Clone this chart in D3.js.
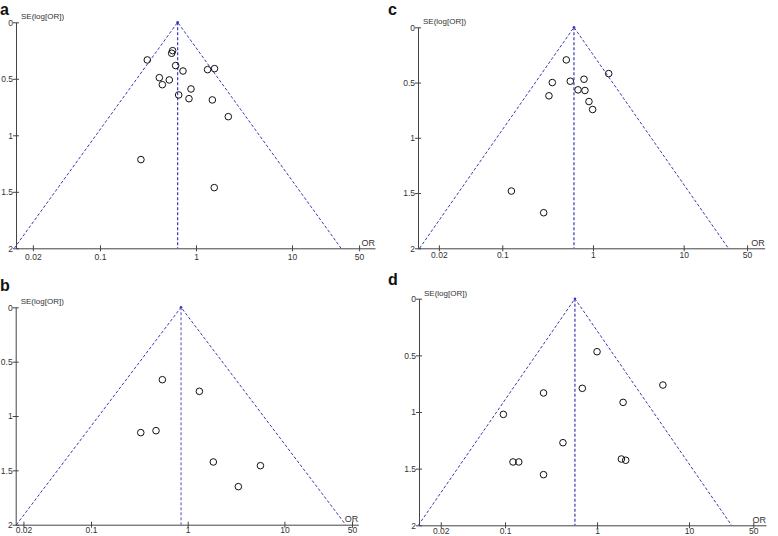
<!DOCTYPE html>
<html>
<head>
<meta charset="utf-8">
<script src="https://cdn.jsdelivr.net/npm/d3@7"></script>
<style>
  html, body { margin: 0; padding: 0; background: #fff; }
  svg { display: block; }
</style>
</head>
<body>
<svg id="chart" width="778" height="536"></svg>
<script>
// ---------- DATA ----------
const panelNames = ["a", "b", "c", "d"];

const xTickValues = [0.02, 0.1, 1, 10, 50];
const xTickLabels = ["0.02", "0.1", "1", "10", "50"];
const yTickValues = [0, 0.5, 1, 1.5, 2];
const yTickLabels = ["0", "0.5", "1", "1.5", "2"];

const yAxisTitle = "SE(log[OR])";
const xAxisTitle = "OR";

// Panel a
const orA = [0.311, 0.571, 0.558, 0.614, 0.732, 0.415, 0.527, 0.446, 0.660, 0.887, 0.845, 1.32, 1.56, 1.48, 2.17, 0.267, 1.55];
const seA = [0.333, 0.251, 0.274, 0.383, 0.431, 0.490, 0.510, 0.552, 0.643, 0.590, 0.676, 0.419, 0.410, 0.687, 0.835, 1.215, 1.463];
const pooledA = 0.644;

// Panel b
const orB = [0.547, 1.32, 0.327, 0.470, 1.84, 5.65, 3.34];
const seB = [0.666, 0.773, 1.153, 1.135, 1.423, 1.457, 1.650];
const pooledB = 0.853;

// Panel c
const orC = [0.508, 1.49, 0.356, 0.562, 0.796, 0.684, 0.816, 0.327, 0.903, 0.991, 0.126, 0.286];
const seC = [0.295, 0.419, 0.500, 0.488, 0.470, 0.566, 0.572, 0.620, 0.672, 0.744, 1.482, 1.678];
const pooledC = 0.617;

// Panel d
const orD = [1.00, 5.2, 0.692, 0.262, 1.92, 0.0959, 0.426, 0.122, 0.141, 1.84, 2.05, 0.262];
const seD = [0.468, 0.762, 0.791, 0.832, 0.915, 1.021, 1.271, 1.441, 1.441, 1.415, 1.426, 1.553];
const pooledD = 0.575;

const zFunnel = 1.96;

// ---------- LAYOUT (positions only) ----------
const layouts = {
  a: { or: orA, se: seA, pooled: pooledA, xDom: [0.01334, 73.2], xR: [16, 375],     yR: [22.3, 248.3],  lab: [0, 14.5],   xl: 5.5, vw: 1.2 },
  b: { or: orB, se: seB, pooled: pooledB, xDom: [0.01664, 58.1], xR: [15.7, 358.3], yR: [307.3, 524.7], lab: [0, 290.7],  xl: 2.2, vw: 0.9 },
  c: { or: orC, se: seC, pooled: pooledC, xDom: [0.01177, 78.2], xR: [418, 764.7],  yR: [27.3, 248.3],  lab: [388, 14.5], xl: 3.5, vw: 1.2 },
  d: { or: orD, se: seD, pooled: pooledD, xDom: [0.0116, 68.7],  xR: [419, 766],    yR: [298.7, 525.3], lab: [388, 285],  xl: 2.2, vw: 1.2 }
};

const svg = d3.select("#chart");
const fontFam = "Arial, 'Liberation Sans', Helvetica, sans-serif";
const axisCol = "#444";
const funnelCol = "#3a3ab8";

panelNames.forEach(name => {
  const L = layouts[name];
  const x = d3.scaleLog().domain(L.xDom).range(L.xR);
  const y = d3.scaleLinear().domain([0, 2]).range(L.yR);
  const g = svg.append("g");

  // panel letter
  g.append("text")
    .attr("x", L.lab[0]).attr("y", L.lab[1])
    .attr("font-family", fontFam).attr("font-weight", "bold")
    .attr("font-size", 16).attr("fill", "#111")
    .text(name);

  // X axis
  const xAxis = d3.axisBottom(x)
    .tickValues(xTickValues)
    .tickFormat((d, i) => xTickLabels[i])
    .tickSizeInner(3).tickSizeOuter(0);
  const gx = g.append("g").attr("transform", `translate(0,${L.yR[1]})`).call(xAxis);
  gx.select(".domain").attr("stroke", axisCol).attr("stroke-width", 1);
  gx.selectAll(".tick line").attr("y1", -3).attr("y2", 3).attr("stroke", axisCol);
  gx.selectAll(".tick text")
    .attr("y", L.xl)
    .attr("font-family", fontFam).attr("font-size", 8.5).attr("fill", "#333");

  // Y axis
  const yAxis = d3.axisLeft(y)
    .tickValues(yTickValues)
    .tickFormat((d, i) => yTickLabels[i])
    .tickSizeInner(3).tickSizeOuter(0);
  const gy = g.append("g").attr("transform", `translate(${L.xR[0]},0)`).call(yAxis);
  gy.select(".domain").attr("stroke", axisCol).attr("stroke-width", 1);
  gy.selectAll(".tick line").attr("x1", -3).attr("x2", 3).attr("stroke", axisCol);
  gy.selectAll(".tick text")
    .attr("x", -3)
    .attr("font-family", fontFam).attr("font-size", 8.5).attr("fill", "#333");

  // axis titles
  g.append("text")
    .attr("x", L.xR[0] + 5).attr("y", L.yR[0] - 3)
    .attr("font-family", fontFam).attr("font-size", 8).attr("fill", "#333")
    .text(yAxisTitle);
  g.append("text")
    .attr("x", L.xR[1]).attr("y", L.yR[1] - 2.5)
    .attr("text-anchor", "end")
    .attr("font-family", fontFam).attr("font-size", 9).attr("fill", "#333")
    .text(xAxisTitle);

  // funnel
  const k = Math.exp(zFunnel * 2);
  const funnel = [[L.pooled / k, 2], [L.pooled, 0], [L.pooled * k, 2]];
  g.append("path")
    .attr("d", d3.line().x(d => x(d[0])).y(d => y(d[1]))(funnel))
    .attr("fill", "none").attr("stroke", funnelCol)
    .attr("stroke-width", 1).attr("stroke-dasharray", "3,2");
  g.append("line")
    .attr("x1", x(L.pooled)).attr("x2", x(L.pooled))
    .attr("y1", y(0)).attr("y2", y(2))
    .attr("stroke", funnelCol).attr("stroke-width", L.vw)
    .attr("stroke-dasharray", "3,2");
  g.append("circle")
    .attr("cx", x(L.pooled)).attr("cy", y(0)).attr("r", 1.3)
    .attr("fill", funnelCol);

  // points
  g.selectAll("circle.pt")
    .data(L.or.map((o, i) => ({ or: o, se: L.se[i] })))
    .join("circle")
    .attr("class", "pt")
    .attr("cx", d => x(d.or)).attr("cy", d => y(d.se))
    .attr("r", 3.3)
    .attr("fill", "none").attr("stroke", "#111").attr("stroke-width", 1);
});
</script>
</body>
</html>
